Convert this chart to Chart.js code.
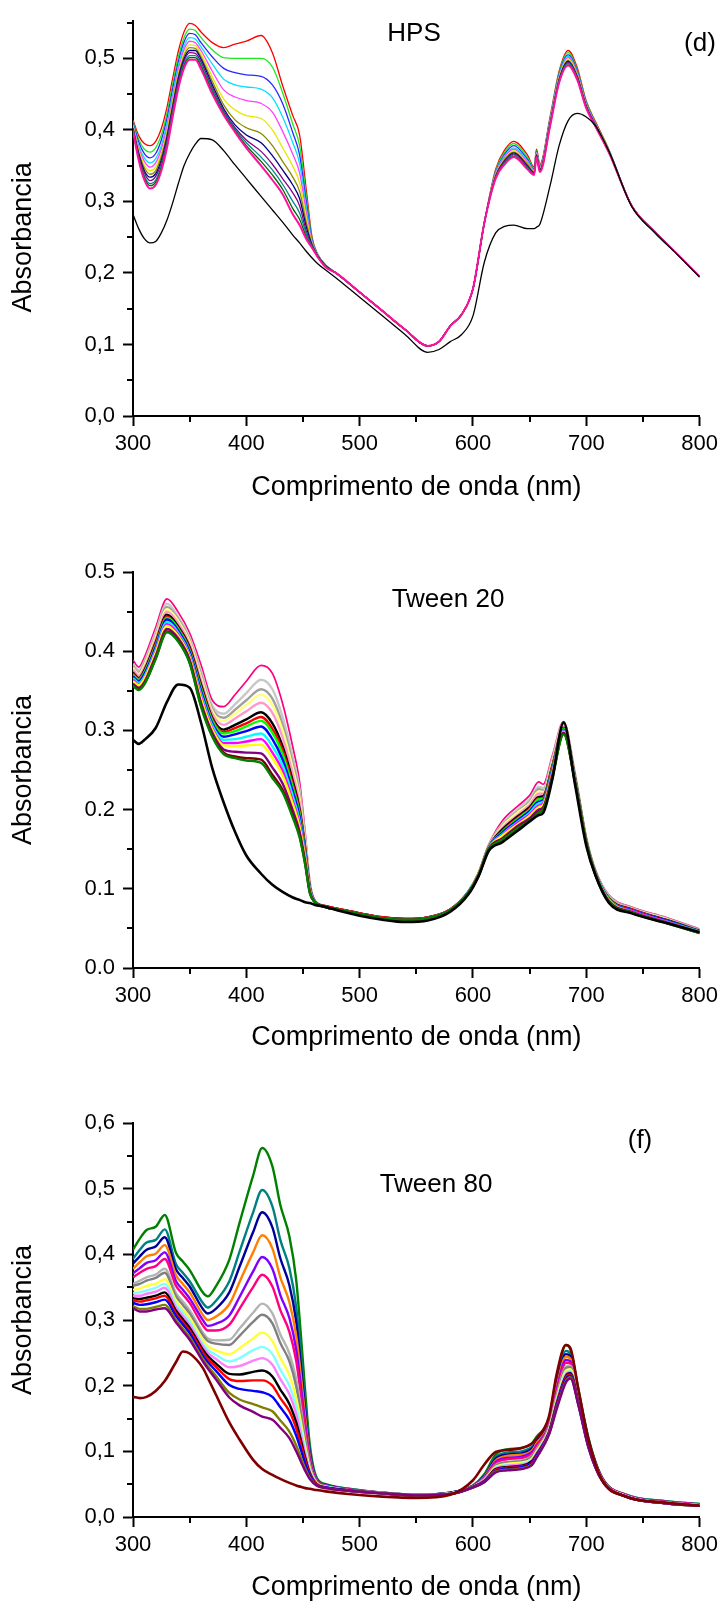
<!DOCTYPE html>
<html lang="pt">
<head>
<meta charset="UTF-8" />
<title>Espectros de absorção</title>
<script src="https://cdn.jsdelivr.net/npm/chart.js"></script>
<style>
  body { margin: 0; background: #fff; }
  #page { position: relative; width: 723px; height: 1606px; background: #fff;
          font-family: 'Liberation Sans', Arial, sans-serif; }
  canvas { position: absolute; left: 0; }
  .note { position: absolute; font-size: 26px; line-height: 1; color: #000;
          transform: translate(-50%, -50%); white-space: nowrap; }
</style>
</head>
<body>
<div id="page">
  <canvas id="hpsChart" width="723" height="520" style="top:0"></canvas>
  <canvas id="t20Chart" width="723" height="540" style="top:530px"></canvas>
  <canvas id="t80Chart" width="723" height="526" style="top:1080px"></canvas>
  <div class="note" style="left:414px;top:32px">HPS</div>
  <div class="note" style="left:700px;top:42px">(d)</div>
  <div class="note" style="left:448px;top:598px">Tween 20</div>
  <div class="note" style="left:640px;top:1139px">(f)</div>
  <div class="note" style="left:436px;top:1183px">Tween 80</div>
</div>

<script>
// ---- HPS: comprimentos de onda (nm) e absorbância de cada espectro ----
const wlHps = [300,305,310,315,320,325,330,335,340,345,350,355,360,370,380,390,400,413,423,432,
  441,447,453,458,463,470,480,500,520,540,560,570,580,590,600,610,620,628,636,648,
  654,656,659,668,676,684,692,700,708,720,740,760,780,800];
const hps1 = [.414,.392,.381,.378,.384,.402,.432,.472,.510,.537,.549,.546,.537,.522,.515,.520,.524,.532,.508,.462,
  .420,.393,.315,.250,.226,.211,.199,.173,.147,.121,.098,.104,.126,.142,.178,.270,.345,.372,.384,.365,
  .348,.373,.352,.418,.482,.511,.487,.440,.412,.372,.294,.258,.227,.195];
const hps2 = [.412,.387,.373,.369,.375,.393,.423,.464,.502,.529,.541,.539,.529,.512,.501,.500,.500,.500,.488,.452,
  .408,.378,.306,.248,.226,.211,.199,.173,.147,.121,.098,.104,.126,.142,.178,.270,.343,.369,.381,.362,
  .346,.371,.350,.416,.480,.508,.484,.439,.411,.372,.294,.258,.227,.195];
const hps3 = [.410,.383,.367,.361,.367,.386,.416,.457,.495,.523,.535,.533,.522,.502,.486,.480,.477,.475,.463,.437,
  .396,.365,.298,.246,.225,.211,.199,.173,.147,.121,.098,.104,.126,.142,.178,.270,.341,.366,.378,.359,
  .345,.370,.349,.414,.478,.505,.482,.437,.410,.371,.294,.258,.227,.195];
const hps4 = [.408,.378,.361,.354,.360,.378,.409,.450,.489,.517,.529,.527,.516,.492,.471,.463,.460,.457,.445,.418,
  .382,.353,.291,.244,.225,.210,.199,.173,.147,.121,.098,.104,.126,.142,.178,.270,.340,.364,.375,.357,
  .344,.369,.348,.413,.476,.503,.480,.436,.409,.371,.294,.258,.227,.195];
const hps5 = [.406,.375,.356,.348,.354,.373,.404,.445,.484,.512,.524,.522,.511,.482,.456,.446,.441,.437,.425,.398,
  .366,.340,.284,.243,.225,.210,.199,.173,.147,.121,.098,.104,.126,.142,.178,.270,.339,.362,.373,.355,
  .343,.368,.347,.412,.474,.501,.479,.435,.409,.370,.294,.258,.227,.195];
const hps6 = [.405,.372,.351,.343,.348,.367,.398,.440,.479,.507,.519,.518,.506,.474,.443,.428,.420,.416,.400,.375,
  .349,.326,.277,.241,.224,.210,.199,.173,.147,.121,.098,.104,.126,.142,.178,.270,.337,.360,.371,.353,
  .342,.367,.346,.410,.473,.499,.477,.434,.408,.370,.294,.258,.227,.195];
const hps7 = [.403,.369,.347,.338,.343,.363,.394,.436,.475,.503,.515,.514,.502,.468,.435,.414,.403,.395,.378,.356,
  .334,.314,.270,.240,.224,.210,.199,.173,.147,.121,.098,.104,.126,.142,.178,.270,.336,.359,.369,.352,
  .341,.366,.345,.409,.471,.497,.476,.433,.407,.370,.294,.258,.227,.195];
const hps8 = [.402,.367,.343,.334,.339,.358,.390,.432,.472,.499,.511,.511,.499,.463,.430,.407,.393,.382,.364,.344,
  .323,.304,.264,.239,.224,.210,.199,.173,.147,.121,.098,.104,.126,.142,.178,.270,.335,.357,.368,.350,
  .340,.365,.344,.408,.470,.496,.474,.433,.407,.369,.294,.258,.227,.195];
const hps9 = [.401,.364,.340,.329,.335,.354,.386,.428,.468,.496,.508,.507,.495,.459,.427,.403,.386,.370,.352,.332,
  .312,.294,.258,.238,.223,.209,.199,.173,.147,.121,.098,.104,.126,.142,.178,.270,.335,.356,.366,.349,
  .339,.364,.343,.408,.469,.494,.473,.432,.406,.369,.294,.258,.227,.195];
const hps10 = [.400,.362,.336,.325,.330,.350,.382,.425,.464,.492,.504,.504,.491,.456,.425,.401,.382,.362,.344,.324,
  .300,.284,.254,.237,.223,.209,.199,.173,.147,.121,.098,.104,.126,.142,.178,.270,.334,.354,.365,.347,
  .338,.363,.342,.407,.468,.493,.472,.431,.406,.369,.294,.258,.227,.195];
const hps11 = [.399,.360,.333,.322,.327,.347,.378,.421,.461,.489,.501,.501,.488,.453,.423,.399,.378,.356,.337,.317,
  .290,.275,.250,.236,.223,.209,.199,.173,.147,.121,.098,.104,.126,.142,.178,.270,.333,.353,.363,.346,
  .338,.363,.342,.406,.467,.491,.471,.431,.405,.368,.294,.258,.227,.195];
const hps12 = [.398,.358,.330,.318,.323,.343,.375,.418,.458,.486,.498,.498,.485,.450,.421,.397,.375,.350,.330,.310,
  .282,.267,.247,.235,.222,.208,.199,.173,.147,.121,.098,.104,.126,.142,.178,.270,.332,.352,.362,.345,
  .337,.362,.341,.405,.466,.490,.470,.430,.405,.368,.294,.258,.227,.195];
const hpsRef = [.282,.262,.248,.242,.244,.256,.274,.298,.325,.350,.367,.380,.388,.386,.371,.351,.332,.307,.288,.271,
  .253,.242,.230,.221,.213,.204,.192,.166,.140,.114,.089,.093,.104,.114,.140,.215,.256,.265,.267,.262,
  .262,.264,.268,.322,.378,.413,.423,.418,.406,.370,.293,.257,.226,.194];

// ---- Tween 20 ----
const wlT20 = [300,305,310,320,330,340,350,360,370,380,390,400,413,423,432,441,447,452,456,460,
  470,480,500,520,540,560,580,596,605,614,626,640,650,658,662,670,680,690,700,708,720,740,770,800];
const t20s1 = [.389,.380,.392,.430,.466,.449,.423,.383,.338,.330,.345,.362,.382,.372,.334,.279,.235,.170,.110,.086,
  .078,.075,.069,.064,.062,.064,.074,.097,.121,.156,.186,.205,.218,.235,.232,.268,.311,.246,.165,.124,.092,.077,.064,.049];
const t20s2 = [.384,.376,.387,.424,.460,.443,.417,.375,.331,.321,.333,.347,.364,.352,.317,.266,.225,.164,.108,.086,
  .078,.075,.069,.064,.062,.064,.074,.097,.120,.155,.182,.201,.213,.229,.227,.264,.309,.245,.164,.123,.091,.076,.063,.048];
const t20s3 = [.381,.373,.384,.420,.456,.440,.414,.370,.327,.316,.326,.338,.352,.340,.307,.258,.218,.160,.106,.086,
  .078,.075,.069,.064,.062,.064,.074,.097,.120,.155,.180,.198,.210,.226,.224,.261,.307,.244,.163,.123,.090,.076,.062,.048];
const t20s4 = [.379,.371,.382,.418,.453,.438,.412,.367,.324,.312,.321,.332,.345,.332,.300,.252,.214,.158,.106,.085,
  .078,.075,.069,.064,.062,.064,.074,.096,.120,.154,.179,.197,.208,.223,.222,.260,.306,.243,.163,.122,.089,.075,.062,.047];
const t20s5 = [.377,.369,.379,.415,.450,.435,.409,.363,.321,.307,.315,.324,.335,.322,.291,.245,.208,.155,.104,.085,
  .078,.075,.069,.064,.062,.064,.074,.096,.119,.154,.177,.194,.206,.220,.220,.257,.305,.242,.162,.122,.089,.075,.061,.047];
const t20s6 = [.373,.366,.376,.411,.446,.431,.405,.358,.316,.301,.307,.314,.323,.309,.280,.236,.201,.151,.103,.085,
  .078,.075,.069,.064,.062,.064,.074,.096,.119,.153,.175,.192,.203,.216,.217,.255,.303,.241,.161,.121,.088,.074,.061,.047];
const t20s7 = [.372,.365,.374,.409,.444,.429,.403,.355,.314,.298,.303,.309,.317,.302,.275,.232,.198,.149,.102,.085,
  .078,.075,.069,.064,.062,.064,.074,.096,.119,.153,.173,.190,.201,.214,.215,.253,.303,.240,.161,.121,.087,.074,.060,.046];
const t20s8 = [.370,.364,.373,.407,.442,.428,.401,.353,.312,.296,.299,.305,.312,.297,.270,.228,.195,.147,.101,.085,
  .077,.074,.068,.063,.061,.063,.073,.096,.119,.153,.172,.189,.200,.213,.214,.252,.302,.240,.160,.121,.087,.073,.060,.046];
const t20s9 = [.368,.362,.371,.405,.440,.426,.399,.350,.309,.292,.295,.299,.305,.289,.263,.223,.191,.145,.101,.085,
  .077,.074,.068,.063,.061,.063,.073,.096,.118,.152,.171,.187,.198,.210,.212,.250,.301,.239,.160,.120,.086,.073,.060,.046];
const t20s10 = [.366,.360,.368,.402,.437,.423,.396,.346,.306,.288,.289,.292,.296,.280,.256,.217,.186,.142,.100,.085,
  .077,.074,.068,.063,.061,.063,.073,.096,.118,.152,.169,.185,.196,.208,.210,.248,.300,.238,.160,.120,.086,.072,.059,.046];
const t20s11 = [.364,.358,.366,.400,.434,.421,.394,.343,.303,.284,.284,.286,.289,.272,.249,.211,.182,.140,.099,.085,
  .077,.074,.068,.063,.061,.063,.073,.095,.118,.151,.168,.184,.194,.205,.208,.247,.299,.237,.159,.119,.085,.072,.059,.045];
const t20s12 = [.362,.357,.365,.398,.432,.419,.392,.340,.301,.281,.280,.281,.282,.265,.243,.207,.178,.138,.098,.084,
  .077,.074,.068,.063,.061,.063,.073,.095,.118,.151,.167,.182,.192,.203,.206,.245,.298,.237,.159,.119,.085,.071,.058,.045];
const t20s13 = [.359,.354,.361,.394,.428,.416,.389,.335,.297,.276,.273,.272,.271,.253,.233,.199,.172,.134,.097,.084,
  .077,.074,.068,.063,.061,.063,.073,.095,.117,.151,.164,.180,.189,.200,.203,.243,.297,.236,.158,.119,.084,.071,.058,.045];
const t20s14 = [.357,.352,.359,.391,.425,.413,.386,.332,.293,.272,.267,.265,.263,.244,.225,.193,.167,.131,.095,.084,
  .077,.074,.068,.063,.061,.063,.073,.095,.117,.150,.163,.178,.187,.197,.201,.241,.296,.235,.158,.118,.084,.070,.057,.044];
const t20s15 = [.356,.351,.358,.390,.424,.412,.385,.330,.292,.270,.265,.262,.259,.240,.222,.190,.165,.130,.095,.084,
  .077,.074,.068,.063,.061,.063,.073,.095,.117,.150,.162,.177,.186,.196,.200,.240,.295,.235,.158,.118,.083,.070,.057,.044];
const t20Ref = [.288,.283,.288,.303,.336,.358,.354,.310,.252,.209,.172,.142,.119,.105,.096,.089,.086,.083,.082,.080,
  .077,.073,.066,.061,.058,.060,.071,.093,.116,.148,.159,.174,.185,.193,.196,.238,.310,.232,.154,.117,.082,.069,.057,.045];

// ---- Tween 80 ----
const wlT80 = [300,306,312,320,328,338,344,350,362,366,373,385,394,406,414,423,430,438,444,448,
  452,456,462,470,490,520,550,580,600,610,620,630,643,652,656,667,674,682,686,693,702,714,735,770,800];
const t80s1 = [.407,.424,.437,.442,.460,.402,.389,.376,.341,.336,.351,.392,.448,.520,.562,.534,.475,.427,.361,.280,
  .190,.110,.060,.050,.043,.037,.034,.037,.048,.065,.095,.103,.105,.112,.122,.150,.215,.262,.255,.195,.120,.060,.034,.024,.020];
const t80s2 = [.393,.407,.418,.422,.438,.385,.372,.359,.325,.319,.329,.359,.404,.464,.498,.473,.422,.379,.320,.249,
  .171,.102,.058,.049,.043,.037,.034,.037,.048,.063,.091,.098,.100,.107,.117,.146,.207,.253,.248,.191,.118,.059,.034,.024,.020];
const t80s3 = [.386,.397,.407,.412,.426,.377,.364,.351,.316,.310,.317,.342,.381,.434,.464,.441,.394,.353,.298,.233,
  .161,.098,.057,.049,.042,.037,.034,.037,.047,.062,.089,.095,.097,.104,.114,.144,.203,.248,.244,.189,.116,.059,.033,.023,.019];
const t80s4 = [.378,.388,.397,.401,.414,.368,.355,.342,.307,.300,.305,.324,.358,.403,.429,.409,.365,.327,.276,.217,
  .151,.093,.056,.048,.042,.037,.034,.036,.047,.061,.086,.093,.095,.101,.112,.142,.199,.244,.241,.187,.115,.058,.033,.023,.019];
const t80s5 = [.371,.379,.387,.391,.403,.359,.346,.333,.299,.291,.294,.307,.335,.374,.396,.378,.338,.303,.255,.201,
  .141,.089,.055,.048,.042,.037,.034,.036,.047,.060,.084,.090,.092,.099,.109,.140,.195,.239,.237,.185,.114,.058,.033,.023,.019];
const t80s6 = [.365,.372,.378,.382,.393,.352,.339,.326,.291,.284,.284,.293,.317,.350,.369,.351,.315,.282,.238,.188,
  .133,.085,.054,.047,.042,.037,.034,.036,.047,.059,.082,.088,.090,.096,.107,.138,.191,.235,.234,.183,.113,.058,.033,.023,.019];
const t80s7 = [.355,.360,.365,.369,.378,.341,.328,.315,.280,.272,.269,.270,.287,.311,.325,.310,.278,.249,.210,.167,
  .120,.080,.053,.047,.041,.037,.034,.036,.046,.058,.079,.084,.086,.093,.103,.136,.186,.229,.230,.181,.111,.057,.032,.022,.018];
const t80s8 = [.352,.355,.360,.364,.372,.336,.323,.310,.276,.268,.264,.262,.276,.297,.308,.295,.265,.237,.199,.159,
  .116,.078,.053,.046,.041,.037,.034,.036,.046,.058,.078,.083,.085,.092,.102,.135,.184,.227,.228,.180,.111,.057,.032,.022,.018];
const t80s9 = [.346,.348,.352,.355,.362,.329,.316,.303,.269,.260,.254,.248,.257,.272,.281,.268,.242,.216,.181,.146,
  .107,.074,.052,.046,.041,.036,.033,.036,.046,.057,.076,.081,.083,.089,.100,.133,.181,.223,.225,.178,.110,.057,.032,.022,.018];
const t80s10 = [.341,.342,.345,.349,.355,.324,.311,.298,.263,.255,.247,.237,.242,.254,.259,.248,.224,.200,.168,.136,
  .101,.072,.051,.046,.041,.036,.033,.036,.046,.056,.075,.079,.081,.088,.098,.132,.178,.220,.222,.177,.109,.056,.032,.022,.018];
const t80s11 = [.337,.337,.340,.343,.349,.319,.306,.293,.259,.250,.241,.228,.230,.238,.242,.232,.210,.187,.157,.127,
  .096,.069,.051,.045,.041,.036,.033,.035,.046,.056,.074,.078,.080,.086,.097,.130,.176,.217,.221,.175,.108,.056,.032,.022,.018];
const t80s12 = [.333,.332,.334,.337,.342,.314,.301,.288,.254,.245,.234,.218,.217,.221,.223,.214,.194,.172,.144,.118,
  .090,.067,.050,.045,.041,.036,.033,.035,.046,.055,.073,.076,.078,.085,.095,.129,.174,.215,.219,.174,.108,.056,.031,.021,.017];
const t80s13 = [.330,.328,.330,.333,.337,.310,.297,.284,.250,.241,.229,.210,.207,.208,.208,.200,.181,.161,.135,.111,
  .086,.065,.050,.045,.040,.036,.033,.035,.045,.055,.072,.075,.077,.083,.094,.128,.172,.213,.217,.173,.107,.056,.031,.021,.017];
const t80s14 = [.326,.323,.324,.327,.331,.306,.293,.280,.245,.236,.223,.201,.195,.192,.190,.183,.167,.148,.124,.103,
  .081,.063,.049,.045,.040,.036,.033,.035,.045,.054,.070,.074,.076,.082,.093,.127,.170,.210,.215,.172,.106,.055,.031,.021,.017];
const t80s15 = [.321,.317,.317,.320,.323,.300,.287,.274,.240,.230,.215,.189,.179,.172,.167,.161,.147,.130,.109,.091,
  .074,.060,.048,.044,.040,.036,.033,.035,.045,.053,.069,.072,.074,.080,.091,.126,.167,.207,.213,.171,.106,.055,.031,.021,.017];
const t80s16 = [.318,.313,.313,.316,.318,.296,.283,.270,.236,.226,.210,.182,.170,.160,.153,.148,.136,.120,.100,.085,
  .070,.058,.048,.044,.040,.036,.033,.035,.045,.053,.068,.071,.073,.079,.090,.125,.165,.205,.211,.170,.105,.055,.031,.021,.017];
const t80Ref = [.183,.181,.183,.192,.207,.236,.252,.249,.226,.212,.187,.144,.118,.087,.073,.064,.058,.052,.048,.046,
  .044,.043,.041,.039,.035,.031,.029,.034,.056,.080,.099,.102,.105,.112,.119,.153,.219,.262,.257,.194,.117,.056,.031,.022,.017];

// ---- cores das curvas ----
const hpsColors = ['#ff0000','#1ee81e','#2828ff','#00e0ff','#ff40ff','#e8e800','#8a8a00','#000088',
  '#880088','#008888','#006400','#ff10a0'];
const t20Colors = ['#ff0080','#c8c8c8','#a0a0a0','#ffff80','#ff99cc','#000000','#ff0000','#00ff00',
  '#0000ff','#00ffff','#ff00ff','#ffff00','#800080','#800000','#008000'];
const t80Colors = ['#008000','#008080','#000099','#ff8000','#8000ff','#ff0080','#b4b4b4','#808080',
  '#ffff40','#80ffff','#ff80ff','#000000','#ff0000','#0000ff','#808000','#800080'];

const FONT = "'Liberation Sans', Arial, sans-serif";
Chart.defaults.font.family = FONT;
Chart.defaults.color = '#000';

// tracinhos menores entre as marcas principais
const minorTicks = {
  id: 'minorTicks',
  afterDraw(chart) {
    const ctx = chart.ctx;
    ctx.save();
    ctx.strokeStyle = '#000';
    ctx.lineWidth = 2;
    ctx.beginPath();
    [chart.scales.x, chart.scales.y].forEach(scale => {
      const vals = scale.ticks.map(t => t.value);
      const step = vals[1] - vals[0];
      vals.forEach(v => {
        const m = v + step / 2;
        if (m > scale.max + 1e-9) return;
        const p = Math.round(scale.getPixelForValue(m));
        if (scale.isHorizontal()) {
          ctx.moveTo(p, scale.top); ctx.lineTo(p, scale.top + 6);
        } else {
          ctx.moveTo(scale.right, p); ctx.lineTo(scale.right - 6, p);
        }
      });
    });
    ctx.stroke();
    ctx.restore();
  }
};

function toPoints(wl, vals) {
  return wl.map((w, i) => ({ x: w, y: vals[i] }));
}

function makeChart(id, o) {
  const n = o.series.length;
  const datasets = o.series.map((s, i) => ({
    data: toPoints(o.wl, s),
    borderColor: o.colors[i],
    borderWidth: o.widths ? o.widths[i] : o.width,
    order: n - i
  }));
  datasets.push({ data: toPoints(o.wl, o.ref), borderColor: o.refColor, borderWidth: o.refWidth, order: 0 });

  const axisGrid = { display: true, drawOnChartArea: false, drawTicks: true,
                     tickLength: 10, tickWidth: 2, tickColor: '#000' };
  const canvas = document.getElementById(id);
  return new Chart(canvas, {
    type: 'line',
    data: { datasets },
    options: {
      responsive: false,
      animation: false,
      events: [],
      layout: { padding: { top: o.top, right: 22, left: 0, bottom: 0 } },
      elements: {
        point: { radius: 0 },
        line: { cubicInterpolationMode: 'monotone', fill: false }
      },
      plugins: { legend: { display: false }, tooltip: { enabled: false } },
      scales: {
        x: {
          type: 'linear', position: 'bottom', min: 300, max: 800,
          grid: axisGrid,
          border: { display: true, color: '#000', width: 2 },
          ticks: { stepSize: 100, padding: 5, color: '#000', font: { size: 22 } },
          title: { display: true, text: 'Comprimento de onda (nm)', color: '#000',
                   font: { size: 27, lineHeight: 1.2 }, padding: { top: 0, bottom: o.xTitlePad } },
          afterFit(scale) { scale.height = canvas.height - o.bottom; }
        },
        y: {
          type: 'linear', position: 'left', min: 0, max: o.yMax,
          grid: axisGrid,
          border: { display: true, color: '#000', width: 2 },
          ticks: { stepSize: 0.1, includeBounds: false, padding: 8, color: '#000', font: { size: 22 },
                   callback: v => v.toFixed(1).replace('.', o.decimal) },
          title: { display: true, text: o.yTitle, color: '#000',
                   font: { size: 27, lineHeight: 1.2 }, padding: { top: 7, bottom: 0 } },
          afterFit(scale) { scale.width = 133; }
        }
      }
    },
    plugins: [minorTicks]
  });
}

makeChart('hpsChart', {
  wl: wlHps,
  series: [hps1, hps2, hps3, hps4, hps5, hps6, hps7, hps8, hps9, hps10, hps11, hps12],
  colors: hpsColors,
  widths: [1.3,1.3,1.3,1.3,1.3,1.3,1.3,1.3,1.3,1.3,1.3,2.0],
  ref: hpsRef, refColor: '#000000', refWidth: 1.3,
  yMax: 0.552, top: 17, bottom: 416, xTitlePad: 16, decimal: ',',
  yTitle: 'Absorbancia\u00a0\u00a0\u00a0\u00a0\u00a0'
});

makeChart('t20Chart', {
  wl: wlT20,
  series: [t20s1, t20s2, t20s3, t20s4, t20s5, t20s6, t20s7, t20s8, t20s9, t20s10, t20s11, t20s12, t20s13, t20s14, t20s15],
  colors: t20Colors,
  widths: [1.7,2.4,2.4,2.4,2.4,2.4,2.4,2.4,2.4,2.4,2.4,2.4,2.4,2.4,2.4],
  ref: t20Ref, refColor: '#000000', refWidth: 2.6,
  yMax: 0.5, top: 42, bottom: 438, xTitlePad: 16, decimal: '.',
  yTitle: 'Absorbancia'
});

makeChart('t80Chart', {
  wl: wlT80,
  series: [t80s1, t80s2, t80s3, t80s4, t80s5, t80s6, t80s7, t80s8, t80s9, t80s10, t80s11, t80s12, t80s13, t80s14, t80s15, t80s16],
  colors: t80Colors,
  width: 2.4,
  ref: t80Ref, refColor: '#800000', refWidth: 2.6,
  yMax: 0.6, top: 43, bottom: 437, xTitlePad: 2, decimal: ',',
  yTitle: 'Absorbancia'
});
</script>
</body>
</html>
